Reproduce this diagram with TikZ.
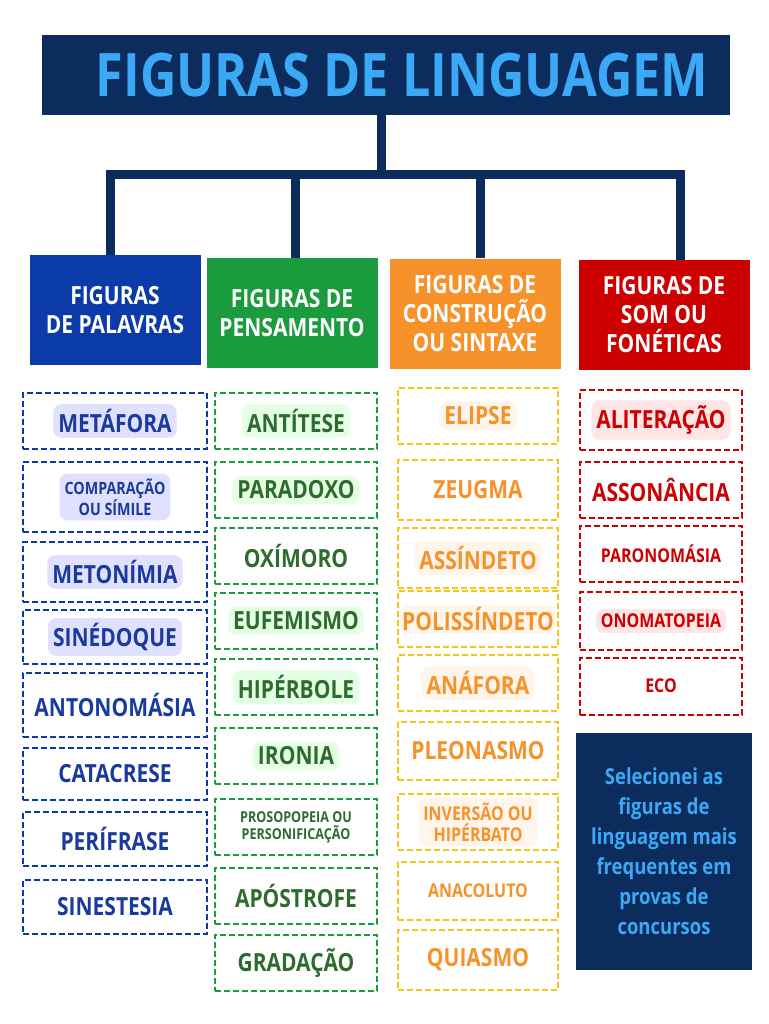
\documentclass[tikz,border=0pt]{standalone}
\usepackage{fontspec}
\setmainfont[FakeStretch=0.84]{Open Sans}
\usetikzlibrary{positioning}
\definecolor{navy}{HTML}{0B2C5C}
\definecolor{skyblue}{HTML}{3BA9F5}
\definecolor{cBlue}{HTML}{0A3BA8}
\definecolor{cGreen}{HTML}{1A9C3E}
\definecolor{cOrange}{HTML}{F7922A}
\definecolor{cRed}{HTML}{CC0000}
\definecolor{tBlue}{HTML}{1A3A9E}
\definecolor{tGreen}{HTML}{2E6B2E}
\definecolor{dYellow}{HTML}{F5C518}

\begin{document}
\begin{tikzpicture}[
  x=1pt,
  y=-1pt,
  font=\bfseries,
  tree/.style={navy, line width=9pt},
  head/.style={text=white, align=center, minimum width=171pt, minimum height=110pt,
    font=\bfseries\fontsize{25}{29}\selectfont},
  item/.style={dashed, dash pattern=on 6pt off 3pt, line width=2pt, minimum height=56pt},
  word/.style={rounded corners=8pt, inner sep=5pt, align=center,
    font=\bfseries\fontsize{25}{27}\selectfont},
  small/.style={word, font=\bfseries\fontsize{19}{21}\selectfont},
  tiny/.style={word, font=\bfseries\fontsize{15}{17}\selectfont},
  wB/.style={text=tBlue}, wG/.style={text=tGreen},
  wO/.style={text=cOrange}, wR/.style={text=cRed},
  bB/.style={item, draw=cBlue, minimum width=184pt},
  bG/.style={item, draw=cGreen, minimum width=162pt},
  bO/.style={item, draw=dYellow, minimum width=160pt},
  bR/.style={item, draw=cRed, minimum width=162pt}
]
\useasboundingbox[fill=white] (0,0) rectangle (768,1024);

\node[fill=navy, minimum width=688pt, minimum height=80pt] (title) at (386,75) {};
\node[text=skyblue, font=\bfseries\fontsize{60}{64}\selectfont] (titleTxt) at (402,75) {FIGURAS DE LINGUAGEM};

\node[head, fill=cBlue] (hPal) at (115,310) {FIGURAS\\DE PALAVRAS};
\node[head, fill=cGreen] (hPen) at (292,313) {FIGURAS DE\\PENSAMENTO};
\node[head, fill=cOrange] (hCon) at (475,314) {FIGURAS DE\\CONSTRUÇÃO\\OU SINTAXE};
\node[head, fill=cRed] (hSom) at (664,315) {FIGURAS DE\\SOM OU\\FONÉTICAS};

% arvore
\coordinate (barL) at (110,175);
\coordinate (barR) at (680,175);
\draw[tree] (381,115) -- (381,175);
\draw[tree, line cap=rect] (barL) -- (barR);
\draw[tree] (barL) -- (110,255);
\draw[tree] (295,175) -- (295,258);
\draw[tree] (480,175) -- (480,258);
\draw[tree] (barR) -- (680,260);

% palavras
\node[bB] (metafora) at (115,421) {};
\node[word, wB, fill=blue!12] at (metafora) {METÁFORA};
\node[bB, minimum height=70pt] (comparacao) at (115,497) {};
\node[tiny, wB, fill=blue!12, font=\bfseries\fontsize{17}{19}\selectfont] at (comparacao) {COMPARAÇÃO\\OU SÍMILE};
\node[bB, minimum height=60pt] (metonimia) at (115,572) {};
\node[word, wB, fill=blue!12] at (metonimia) {METONÍMIA};
\node[bB, minimum height=54pt] (sinedoque) at (115,637) {};
\node[word, wB, fill=blue!12] at (sinedoque) {SINÉDOQUE};
\node[bB, minimum height=64pt] (antonomasia) at (115,705) {};
\node[word, wB] at (antonomasia) {ANTONOMÁSIA};
\node[bB, minimum height=52pt] (catacrese) at (115,774) {};
\node[word, wB] at (catacrese) {CATACRESE};
\node[bB, minimum height=54pt] (perifrase) at (115,839) {};
\node[word, wB] at (perifrase) {PERÍFRASE};
\node[bB, minimum height=54pt] (sinestesia) at (115,907) {};
\node[word, wB] at (sinestesia) {SINESTESIA};

% pensamento
\node[bG] (antitese) at (296,421) {};
\node[word, wG, fill=green!10] at (antitese) {ANTÍTESE};
\node[bG] (paradoxo) at (296,490) {};
\node[word, wG, fill=green!10] at (paradoxo) {PARADOXO};
\node[bG] (oximoro) at (296,556) {};
\node[word, wG] at (oximoro) {OXÍMORO};
\node[bG] (eufemismo) at (296,621) {};
\node[word, wG, fill=green!10] at (eufemismo) {EUFEMISMO};
\node[bG] (hiperbole) at (296,687) {};
\node[word, wG, fill=green!10] at (hiperbole) {HIPÉRBOLE};
\node[bG] (ironia) at (296,756) {};
\node[word, wG, fill=green!10] at (ironia) {IRONIA};
\node[bG] (prosopopeia) at (296,827) {};
\node[tiny, wG] at (prosopopeia) {PROSOPOPEIA OU\\PERSONIFICAÇÃO};
\node[bG] (apostrofe) at (296,896) {};
\node[word, wG] at (apostrofe) {APÓSTROFE};
\node[bG] (gradacao) at (296,963) {};
\node[word, wG] at (gradacao) {GRADAÇÃO};

% construcao
\node[bO] (elipse) at (478,416) {};
\node[word, wO, fill=orange!8] at (elipse) {ELIPSE};
\node[bO, minimum height=60pt] (zeugma) at (478,490) {};
\node[word, wO] at (zeugma) {ZEUGMA};
\node[bO, minimum height=60pt] (assindeto) at (478,558) {};
\node[word, wO, fill=orange!8] at (assindeto) {ASSÍNDETO};
\node[bO] (polissindeto) at (478,619) {};
\node[word, wO, fill=orange!8, inner sep=2pt] at (polissindeto) {POLISSÍNDETO};
\node[bO] (anafora) at (478,683) {};
\node[word, wO, fill=orange!8] at (anafora) {ANÁFORA};
\node[bO, minimum height=58pt] (pleonasmo) at (478,751) {};
\node[word, wO] at (pleonasmo) {PLEONASMO};
\node[bO] (inversao) at (478,822) {};
\node[small, wO, fill=orange!8] at (inversao) {INVERSÃO OU\\HIPÉRBATO};
\node[bO, minimum height=58pt] (anacoluto) at (478,891) {};
\node[small, wO] at (anacoluto) {ANACOLUTO};
\node[bO, minimum height=60pt] (quiasmo) at (478,960) {};
\node[word, wO] at (quiasmo) {QUIASMO};

% som
\node[bR, minimum height=60pt] (aliteracao) at (661,420) {};
\node[word, wR, fill=red!10] at (aliteracao) {ALITERAÇÃO};
\node[bR] (assonancia) at (661,490) {};
\node[word, wR] at (assonancia) {ASSONÂNCIA};
\node[bR] (paronomasia) at (661,554) {};
\node[small, wR] at (paronomasia) {PARONOMÁSIA};
\node[bR, minimum height=58pt] (onomatopeia) at (661,621) {};
\node[small, wR, fill=red!10] at (onomatopeia) {ONOMATOPEIA};
\node[bR, minimum height=57pt] (eco) at (661,686) {};
\node[small, wR] at (eco) {ECO};

\node[fill=navy, text=skyblue, align=center, minimum width=176pt, minimum height=237pt,
  font=\bfseries\fontsize{22}{30}\selectfont] (nota) at (664,851)
  {Selecionei as\\figuras de\\linguagem mais\\frequentes em\\provas de\\concursos};
\end{tikzpicture}
\end{document}
